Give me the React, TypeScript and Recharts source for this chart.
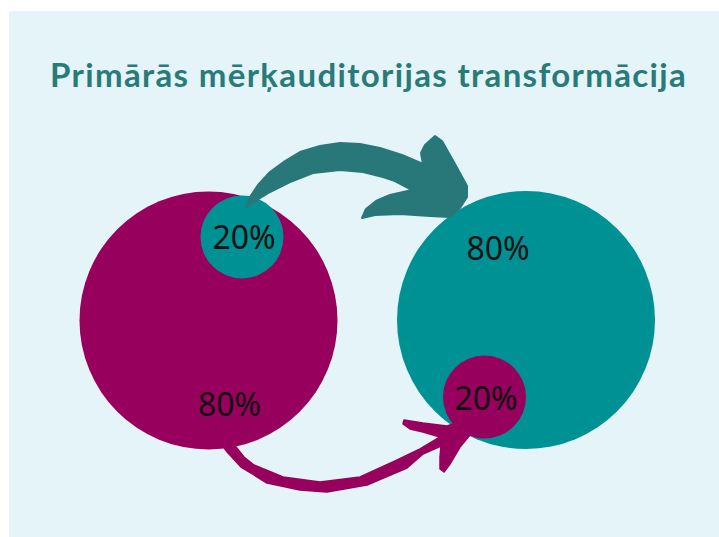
import React from 'react';
import { ScatterChart, Scatter, XAxis, YAxis } from 'recharts';

// page-pixel coordinates (x right, y down)
const bigCircles = [
  { x: 208.5, y: 320.5, r: 129, color: '#98005d' },
  { x: 526, y: 320, r: 129, color: '#009194' },
];

const smallCircles = [
  { x: 242, y: 237, r: 41.5, color: '#009194' },
  { x: 484.5, y: 397, r: 41.5, color: '#98005d' },
];

const shareLabels = [
  { x: 244, y: 249, text: '20%' },
  { x: 229.5, y: 416, text: '80%' },
  { x: 498, y: 260, text: '80%' },
  { x: 486, y: 410, text: '20%' },
];

// outline of the upper (teal) arrow
const topArrow = [
  { x: 246, y: 207 }, { x: 250, y: 197 }, { x: 258, y: 185 }, { x: 270, y: 172 },
  { x: 285, y: 161 }, { x: 300, y: 152 }, { x: 320, y: 146 }, { x: 340, y: 143 },
  { x: 360, y: 144 }, { x: 380, y: 148 }, { x: 402, y: 155 }, { x: 423, y: 164 },
  { x: 421, y: 153 }, { x: 425, y: 145 }, { x: 435, y: 136 }, { x: 442, y: 141 },
  { x: 455, y: 164 }, { x: 467, y: 186 }, { x: 467, y: 197 }, { x: 460, y: 208 },
  { x: 450, y: 217 }, { x: 430, y: 216 }, { x: 400, y: 214 }, { x: 375, y: 215 },
  { x: 362, y: 218 }, { x: 366, y: 209 }, { x: 376, y: 201 }, { x: 390, y: 195 },
  { x: 412, y: 190 }, { x: 395, y: 181 }, { x: 383, y: 177 }, { x: 363, y: 172 },
  { x: 340, y: 170 }, { x: 313, y: 173 }, { x: 290, y: 182 }, { x: 270, y: 192 },
  { x: 257, y: 200 },
];

// outline of the lower (magenta) arrow
const bottomArrow = [
  { x: 220, y: 438 }, { x: 230, y: 440 }, { x: 236, y: 447 }, { x: 244, y: 457 },
  { x: 254, y: 465 }, { x: 283, y: 477 }, { x: 320, y: 482 }, { x: 360, y: 477 },
  { x: 395, y: 461 }, { x: 420, y: 449 }, { x: 440, y: 437 }, { x: 423, y: 432 },
  { x: 410, y: 429 }, { x: 403, y: 424 }, { x: 404, y: 420 }, { x: 423, y: 423 },
  { x: 447, y: 426 }, { x: 465, y: 420 }, { x: 475, y: 425 }, { x: 470, y: 435 },
  { x: 460, y: 447 }, { x: 450, y: 464 }, { x: 444, y: 472 }, { x: 440, y: 469 },
  { x: 440, y: 457 }, { x: 441, y: 446 }, { x: 423, y: 454 }, { x: 407, y: 468 },
  { x: 367, y: 485 }, { x: 327, y: 492 }, { x: 300, y: 490 }, { x: 267, y: 483 },
  { x: 241, y: 467 }, { x: 228, y: 453 }, { x: 221, y: 444 },
];

const title = 'Primārās mērķauditorijas transformācija';

const circleShape = (props: any) => (
  <circle cx={props.cx} cy={props.cy} r={props.payload.r} fill={props.payload.color} />
);

const labelShape = (props: any) => (
  <text
    x={props.cx}
    y={props.cy}
    textAnchor="middle"
    fontFamily="'Noto Sans', sans-serif"
    fontSize={32}
    fill="#111"
  >
    {props.payload.text}
  </text>
);

const noPoint = () => <g />;

export default function App() {
  return (
    <div style={{ position: 'absolute', left: 0, top: 0, width: 719, height: 537 }}>
      <div
        style={{
          position: 'absolute',
          left: 9,
          top: 11,
          width: 710,
          height: 526,
          background: '#e5f4f8',
        }}
      />
      <div
        style={{
          position: 'absolute',
          left: 50,
          top: 58,
          fontFamily: 'Lato, sans-serif',
          fontWeight: 700,
          fontSize: 33,
          lineHeight: '33px',
          letterSpacing: 1.35,
          color: '#287b78',
          whiteSpace: 'nowrap',
        }}
      >
        {title}
      </div>
      <div style={{ position: 'absolute', left: 0, top: 0 }}>
        <ScatterChart width={719} height={537} margin={{ top: 0, right: 0, bottom: 0, left: 0 }}>
          <XAxis type="number" dataKey="x" domain={[0, 719]} hide />
          <YAxis type="number" dataKey="y" domain={[0, 537]} reversed hide />
          <Scatter data={bigCircles} shape={circleShape} isAnimationActive={false} />
          <Scatter data={smallCircles} shape={circleShape} isAnimationActive={false} />
          <Scatter
            data={topArrow}
            shape={noPoint}
            line={{ fill: '#28787a', stroke: '#28787a', strokeWidth: 2, strokeLinejoin: 'round' }}
            lineJointType="linearClosed"
            isAnimationActive={false}
          />
          <Scatter
            data={bottomArrow}
            shape={noPoint}
            line={{ fill: '#98005d', stroke: '#98005d', strokeWidth: 1.5, strokeLinejoin: 'round' }}
            lineJointType="linearClosed"
            isAnimationActive={false}
          />
          <Scatter data={shareLabels} shape={labelShape} isAnimationActive={false} />
        </ScatterChart>
      </div>
    </div>
  );
}
